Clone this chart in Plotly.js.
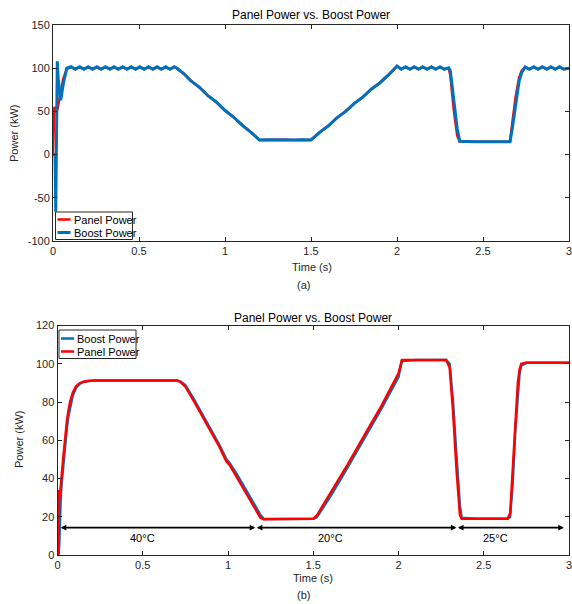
<!DOCTYPE html>
<html>
<head>
<meta charset="utf-8">
<script src="https://cdn.plot.ly/plotly-3.0.1.min.js"></script>
<style>html,body{margin:0;padding:0;background:#fff;}#chart{width:572px;height:604px;}</style>
</head>
<body>
<div id="chart"></div>
<script>
// ---------- Panel (a) data ----------
const aTime = [0, 0.008, 0.012, 0.016, 0.021, 0.025, 0.03, 0.045, 0.06, 0.08,
  0.105, 0.13, 0.155, 0.18, 0.205, 0.23, 0.255, 0.28, 0.305, 0.33, 0.355, 0.38, 0.405, 0.43,
  0.455, 0.48, 0.505, 0.53, 0.555, 0.58, 0.605, 0.63, 0.655, 0.68, 0.705, 0.72,
  0.76, 0.8, 0.85, 0.9, 0.95, 1.0, 1.05, 1.1, 1.15, 1.2,
  1.25, 1.3, 1.35, 1.4, 1.45, 1.5,
  1.55, 1.6, 1.65, 1.7, 1.75, 1.8, 1.85, 1.9, 1.95, 2.0,
  2.025, 2.05, 2.075, 2.1, 2.125, 2.15, 2.175, 2.2, 2.225, 2.25, 2.275, 2.3,
  2.31, 2.33, 2.35, 2.365, 2.4, 2.45, 2.5, 2.55, 2.6, 2.657,
  2.67, 2.69, 2.71, 2.725, 2.745, 2.77, 2.795, 2.82, 2.845, 2.87, 2.895, 2.92, 2.945, 2.97, 3.0];
const aPanel = [0, 55, 54, 50, 50, 52, 58, 72, 88, 99,
  101.3, 98.9, 101.3, 98.9, 101.3, 98.9, 101.3, 98.9, 101.3, 98.9, 101.3, 98.9, 101.3, 98.9,
  101.3, 98.9, 101.3, 98.9, 101.3, 98.9, 101.3, 98.9, 101.3, 98.9, 101.3, 100,
  93.6, 85.8, 77.9, 68.5, 60.6, 51.3, 43.2, 34.0, 25.9, 17,
  17.2, 16.9, 17.2, 16.9, 17.2, 17,
  25.6, 33.3, 42.3, 49.9, 58.9, 66.5, 75.5, 83.1, 92.0, 102,
  98.9, 101.3, 98.9, 101.3, 98.9, 101.3, 98.9, 101.3, 98.9, 101.3, 98.9, 100,
  92, 52, 22, 15, 15, 15, 15, 15, 15, 15,
  36, 67, 89, 97, 101, 98.9, 101.3, 98.9, 101.3, 98.9, 101.3, 98.9, 101.3, 98.9, 100];
const aBoost = [0, 0, 0, -66, 60, 108, 88, 63, 82, 100,
  101.8, 98.8, 101.8, 98.8, 101.8, 98.8, 101.8, 98.8, 101.8, 98.8, 101.8, 98.8, 101.8, 98.8,
  101.8, 98.8, 101.8, 98.8, 101.8, 98.8, 101.8, 98.8, 101.8, 98.8, 101.8, 100,
  93.8, 85.6, 78.2, 68.3, 60.9, 51.0, 43.5, 33.8, 26.1, 17,
  17.3, 16.9, 17.3, 16.9, 17.3, 17,
  25.8, 33.1, 42.5, 49.7, 59.1, 66.3, 75.7, 82.9, 92.2, 102.5,
  98.8, 101.8, 98.8, 101.8, 98.8, 101.8, 98.8, 101.8, 98.8, 101.8, 98.8, 100.5,
  97, 62, 30, 15.5, 15, 15, 15, 15, 15, 15,
  30, 60, 85, 95, 101.5, 98.8, 101.8, 98.8, 101.8, 98.8, 101.8, 98.8, 101.8, 98.8, 100];

// ---------- Panel (b) data ----------
const bTime = [0, 0.005, 0.01, 0.013, 0.016, 0.02, 0.025, 0.035, 0.045, 0.055, 0.065, 0.075,
  0.09, 0.11, 0.13, 0.15, 0.18, 0.22, 0.3, 0.4, 0.5, 0.6, 0.7, 0.72, 0.75, 0.8, 0.85, 0.9,
  0.95, 0.99, 1.01, 1.05, 1.1, 1.15, 1.19, 1.21, 1.3, 1.4, 1.5, 1.52, 1.6, 1.7, 1.8, 1.9,
  2.0, 2.02, 2.1, 2.2, 2.28, 2.3, 2.32, 2.34, 2.36, 2.37, 2.45, 2.55, 2.64, 2.655, 2.67,
  2.685, 2.7, 2.71, 2.72, 2.75, 2.85, 3.0];
const bBoost = [0, 0, 5, 18, 26, 32, 38, 48, 58, 66.5, 73, 78,
  83.5, 87.5, 89.5, 90.5, 91, 91.2, 91.2, 91.2, 91.2, 91.2, 91.2, 90.8, 88.8, 81.5, 73.5, 65.8,
  57.5, 50.2, 48, 42.5, 35, 27.3, 21, 18.8, 18.8, 18.9, 19, 19.6, 30.5, 45.5, 61, 76.5,
  93, 101.5, 102, 102, 102, 100, 80, 52, 26, 19.5, 19, 19, 19, 20, 38,
  65, 86, 95, 99, 100.5, 100.5, 100.5];
const bPanel = [0, 0, 34, 30, 33, 36, 42, 52, 62, 70, 76, 80.5,
  85, 88.3, 89.8, 90.5, 91, 91.2, 91.2, 91.2, 91.2, 91.2, 91.2, 90.5, 88, 80.5, 72.5, 64.5,
  56.5, 49, 47, 41, 33.5, 26, 19.5, 18.7, 18.8, 18.9, 19, 20.5, 32, 47, 62.5, 78,
  95, 102, 102, 102, 102, 98, 75, 45, 21, 19, 19, 19, 19, 22, 45,
  72, 90, 97, 100, 100.5, 100.5, 100.5];

// temperature annotation
const tempLabels = ['40°C', '20°C', '25°C'];
const tempLabelX = [0.5, 1.6, 2.57];
const tempLabelY = 9;
const tempBounds = [0.01, 1.16, 2.34, 2.97];
const arrowLevel = 14.3;

const xTicks = [0, 0.5, 1, 1.5, 2, 2.5, 3];
const xTickText = ['0', '0.5', '1', '1.5', '2', '2.5', '3'];
const aYTicks = [-100, -50, 0, 50, 100, 150];
const aYTickText = ['-100', '-50', '0', '50', '100', '150'];
const bYTicks = [0, 20, 40, 60, 80, 100, 120];
const bYTickText = ['0', '20', '40', '60', '80', '100', '120'];

const legendANames = ['Panel Power', 'Boost Power'];
const legendBNames = ['Boost Power', 'Panel Power'];

const RED = '#FF0000', BLUE = '#0072BD', AX = '#262626';
const FONT = 'Liberation Sans, Arial, Helvetica, sans-serif';

const traces = [
  {x: aTime, y: aPanel, xaxis: 'x', yaxis: 'y', mode: 'lines', name: legendANames[0],
   line: {color: RED, width: 2.5}},
  {x: aTime, y: aBoost, xaxis: 'x', yaxis: 'y', mode: 'lines', name: legendANames[1],
   line: {color: BLUE, width: 3}},
  {x: bTime, y: bBoost, xaxis: 'x2', yaxis: 'y2', mode: 'lines', name: legendBNames[0],
   line: {color: BLUE, width: 2.5}},
  {x: bTime, y: bPanel, xaxis: 'x2', yaxis: 'y2', mode: 'lines', name: legendBNames[1],
   line: {color: RED, width: 2.5}}
];

function axisBase() {
  return {
    showline: true, mirror: 'ticks', linecolor: AX, linewidth: 1,
    ticks: 'inside', ticklen: 4, tickcolor: AX, tickwidth: 1,
    tickfont: {family: FONT, size: 11, color: AX}, ticklabeloverflow: 'allow',
    showgrid: false, zeroline: false, fixedrange: true
  };
}

const W = 572, H = 604;
const px = v => v / W, py = v => (H - v) / H;

const annotations = [];
const shapes = [];
function txt(text, x, y, size, extra) {
  annotations.push(Object.assign({text: text, x: x, y: y, xref: 'paper', yref: 'paper',
    showarrow: false, xanchor: 'center', yanchor: 'middle',
    font: {family: FONT, size: size, color: '#000'}}, extra || {}));
}
const axFont = {family: FONT, size: 11, color: AX};
txt('Panel Power vs. Boost Power', px(311), py(15), 12);
txt('Panel Power vs. Boost Power', px(313), py(318), 12);
txt('Time (s)', px(312), py(267), 11, {font: axFont});
txt('(a)', px(303), py(285), 11, {font: axFont});
txt('Time (s)', px(313), py(578), 11, {font: axFont});
txt('(b)', px(303), py(595), 11, {font: axFont});
txt('Power (kW)', px(14), py(134), 11, {textangle: -90, font: axFont});
txt('Power (kW)', px(19), py(440), 11, {textangle: -90, font: axFont});

// manual compact legends (MATLAB style)
function legendBox(x0, y0, x1, y1, names, colors, widths, rowY, lineX0, lineX1) {
  shapes.push({type: 'rect', xref: 'paper', yref: 'paper', x0: px(x0), x1: px(x1), y0: py(y1), y1: py(y0),
    line: {color: AX, width: 1}, fillcolor: '#fff', layer: 'above'});
  for (let i = 0; i < names.length; i++) {
    shapes.push({type: 'line', xref: 'paper', yref: 'paper', x0: px(lineX0), x1: px(lineX1),
      y0: py(rowY[i]), y1: py(rowY[i]), line: {color: colors[i], width: widths[i]}, layer: 'above'});
    annotations.push({text: names[i], x: px(lineX1 + 1), y: py(rowY[i]), xref: 'paper', yref: 'paper',
      showarrow: false, xanchor: 'left', yanchor: 'middle',
      font: {family: FONT, size: 11, color: '#000'}});
  }
}
legendBox(55.5, 212, 132.5, 239.5, legendANames, [RED, BLUE], [2.5, 3], [219.5, 232.5], 57.5, 70.5);
legendBox(59, 330, 136, 358.5, legendBNames, [BLUE, RED], [2.5, 2.5], [338.5, 351.5], 61, 74);

for (let i = 0; i < tempBounds.length - 1; i++) {
  annotations.push({
    x: tempBounds[i+1], y: arrowLevel, ax: tempBounds[i], ay: arrowLevel,
    xref: 'x2', yref: 'y2', axref: 'x2', ayref: 'y2', text: '',
    showarrow: true, arrowside: 'end+start', arrowhead: 2, startarrowhead: 2,
    arrowsize: 0.7, startarrowsize: 0.7, arrowwidth: 1.6, arrowcolor: '#000',
    standoff: 0, startstandoff: 0
  });
}
for (let i = 0; i < tempLabels.length; i++) {
  annotations.push({x: tempLabelX[i], y: tempLabelY, xref: 'x2', yref: 'y2', text: tempLabels[i],
    showarrow: false, font: {family: FONT, size: 11, color: '#000'}});
}

const layout = {
  width: W, height: H,
  margin: {l: 0, r: 0, t: 0, b: 0},
  paper_bgcolor: '#fff', plot_bgcolor: '#fff',
  font: {family: FONT, size: 11, color: AX},
  showlegend: false,
  xaxis: Object.assign(axisBase(), {domain: [px(53), px(569)], anchor: 'y', range: [0, 3], tickvals: xTicks, ticktext: xTickText}),
  yaxis: Object.assign(axisBase(), {domain: [py(241), py(25)], anchor: 'x', range: [-100, 150], tickvals: aYTicks, ticktext: aYTickText}),
  xaxis2: Object.assign(axisBase(), {domain: [px(57.5), px(569)], anchor: 'y2', range: [0, 3], tickvals: xTicks, ticktext: xTickText}),
  yaxis2: Object.assign(axisBase(), {domain: [py(555), py(325.5)], anchor: 'x2', range: [0, 120], tickvals: bYTicks, ticktext: bYTickText}),
  shapes: shapes,
  annotations: annotations
};

Plotly.newPlot('chart', traces, layout, {displayModeBar: false, staticPlot: true});
</script>
</body>
</html>
